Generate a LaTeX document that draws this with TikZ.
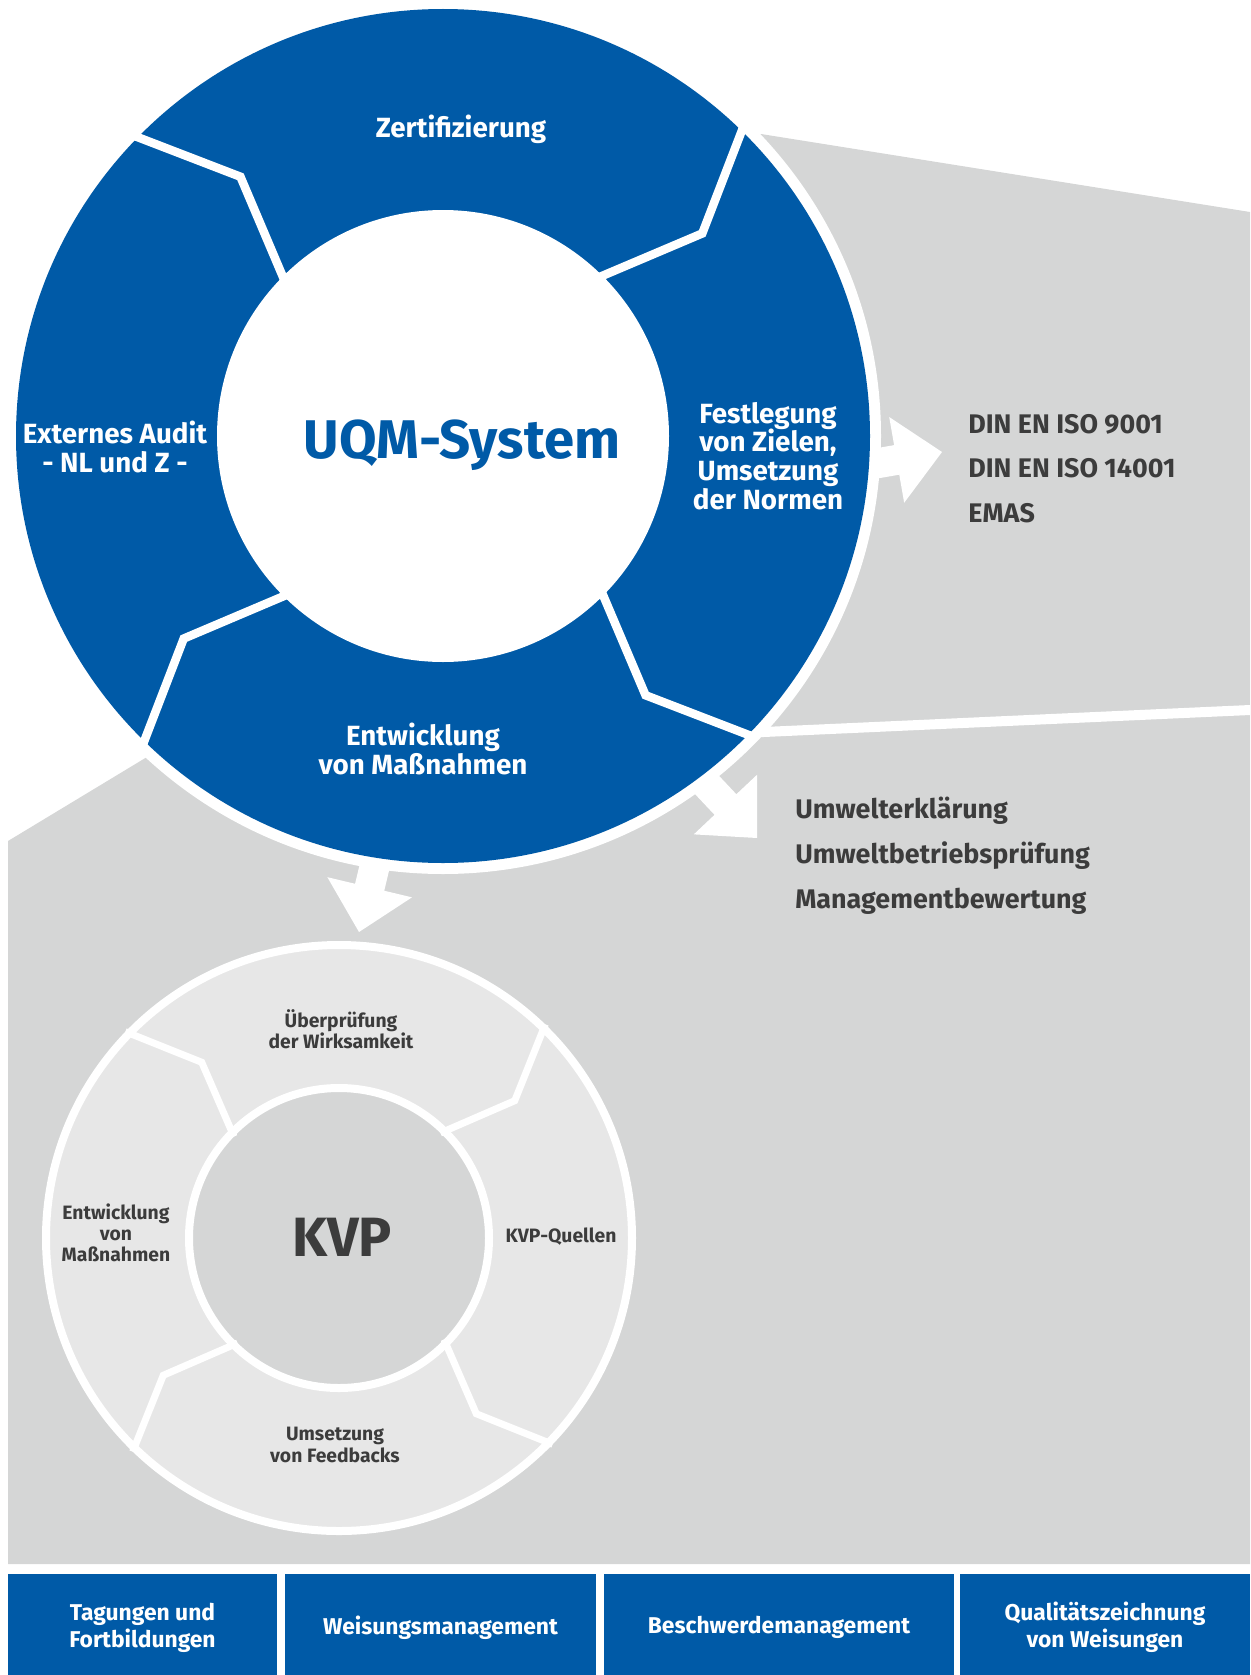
\documentclass[tikz,border=0pt]{standalone}
\usepackage{fontspec}
\setmainfont{Fira Sans}
\usetikzlibrary{calc}

\definecolor{uqmblue}{RGB}{0,90,167}
\definecolor{bggray}{RGB}{213,214,214}
\definecolor{ringgray}{RGB}{231,231,231}
\definecolor{textgray}{RGB}{60,60,60}

\newcommand{\blockarrow}[2]{%
  \fill[white, shift={#1}, rotate=#2] (0,0) -- (-46,43.5) -- (-46,15) -- (-160,15)
    -- (-160,-15) -- (-46,-15) -- (-46,-43.5) -- cycle;}

\begin{document}
\begin{tikzpicture}[x=0.2mm, y=-0.2mm,
  every node/.style={align=center, inner sep=0pt},
  ringlabel/.style={text=white, font=\fontsize{15.8}{16.4}\selectfont\bfseries},
  listlabel/.style={text=textgray, anchor=base west, font=\fontsize{15.3}{16}\selectfont\bfseries},
  kvplabel/.style={text=textgray, font=\fontsize{11}{12.1}\selectfont\bfseries},
  bottombox/.style={fill=uqmblue, text=white, minimum height=21.4mm, font=\fontsize{13}{15.2}\selectfont\bfseries},
  divider/.style={white, line width=1.7mm, line join=miter},
  thindivider/.style={white, line width=1.4mm, line join=miter}]
\useasboundingbox (0,0) rectangle (1250,1675);

\coordinate (uqm) at (443,436);
\coordinate (kvp) at (339,1238);

\fill[bggray] (uqm) -- (761,134) -- (1250,212) -- (1250,1564) -- (8,1564) -- (8,841) -- (147,757) -- cycle;
\draw[white, line width=2mm] ($(uqm)+(44:427)$) -- (1250,710);

\coordinate (tipnorm) at (942,452);
\coordinate (tipenv) at (757,838);
\coordinate (tipkvp) at (359,932);
\blockarrow{(tipnorm)}{9.9}
\blockarrow{(tipenv)}{-46.7}
\blockarrow{(tipkvp)}{-103.4}

\fill[white] (uqm) circle (438);
\fill[uqmblue] (uqm) circle (427);
\fill[white] (uqm) circle (226);
\foreach \a in {44,134,224,314}
  \draw[divider] ($(uqm)+(\a:218)$) -- ($(uqm)+(\a+8:329)$) -- ($(uqm)+(\a:434)$);

\node[ringlabel] (zert) at (461,129) {Zertifizierung};
\node[ringlabel] (festl) at (768,456) {Festlegung\\von Zielen,\\Umsetzung\\der Normen};
\node[ringlabel] (entw) at (423,749) {Entwicklung\\von Maßnahmen};
\node[ringlabel] (audit) at (115,447) {Externes Audit\\- NL und Z -};
\node[text=uqmblue, font=\fontsize{31}{32}\selectfont\bfseries] (uqmtitle) at (462,445) {UQM-System};

\node[listlabel] (din9) at (968,433) {DIN EN ISO 9001};
\node[listlabel] (din14) at (968,477) {DIN EN ISO 14001};
\node[listlabel] (emas) at (968,522) {EMAS};
\node[listlabel] (uerkl) at (795,818) {Umwelterklärung};
\node[listlabel] (ubp) at (795,863) {Umweltbetriebsprüfung};
\node[listlabel] (mgmt) at (795,908) {Managementbewertung};

\draw[white, line width=1.6mm, fill=ringgray] (kvp) circle (293);
\draw[white, line width=1.6mm, fill=bggray] (kvp) circle (150);
\foreach \a in {44,134,224,314}
  \draw[thindivider] ($(kvp)+(\a:146)$) -- ($(kvp)+(\a+8:223)$) -- ($(kvp)+(\a:297)$);

\node[kvplabel] (pruef) at (341,1029) {Überprüfung\\der Wirksamkeit};
\node[kvplabel] (quellen) at (561,1237) {KVP-Quellen};
\node[kvplabel] (feedb) at (335,1445) {Umsetzung\\von Feedbacks};
\node[kvplabel] (massn) at (116,1233) {Entwicklung\\von\\Maßnahmen};
\node[text=textgray, font=\fontsize{31.5}{32}\selectfont\bfseries] (kvptitle) at (342,1237) {KVP};

\node[bottombox, minimum width=53.8mm] (tagung) at (142.5,1627.5) {Tagungen und\\Fortbildungen};
\node[bottombox, minimum width=62.2mm] (weis) at (440.5,1627.5) {Weisungsmanagement};
\node[bottombox, minimum width=70mm] (beschw) at (779,1627.5) {Beschwerdemanagement};
\node[bottombox, minimum width=58mm] (quali) at (1105,1627.5) {Qualitätszeichnung\\von Weisungen};
\end{tikzpicture}
\end{document}
